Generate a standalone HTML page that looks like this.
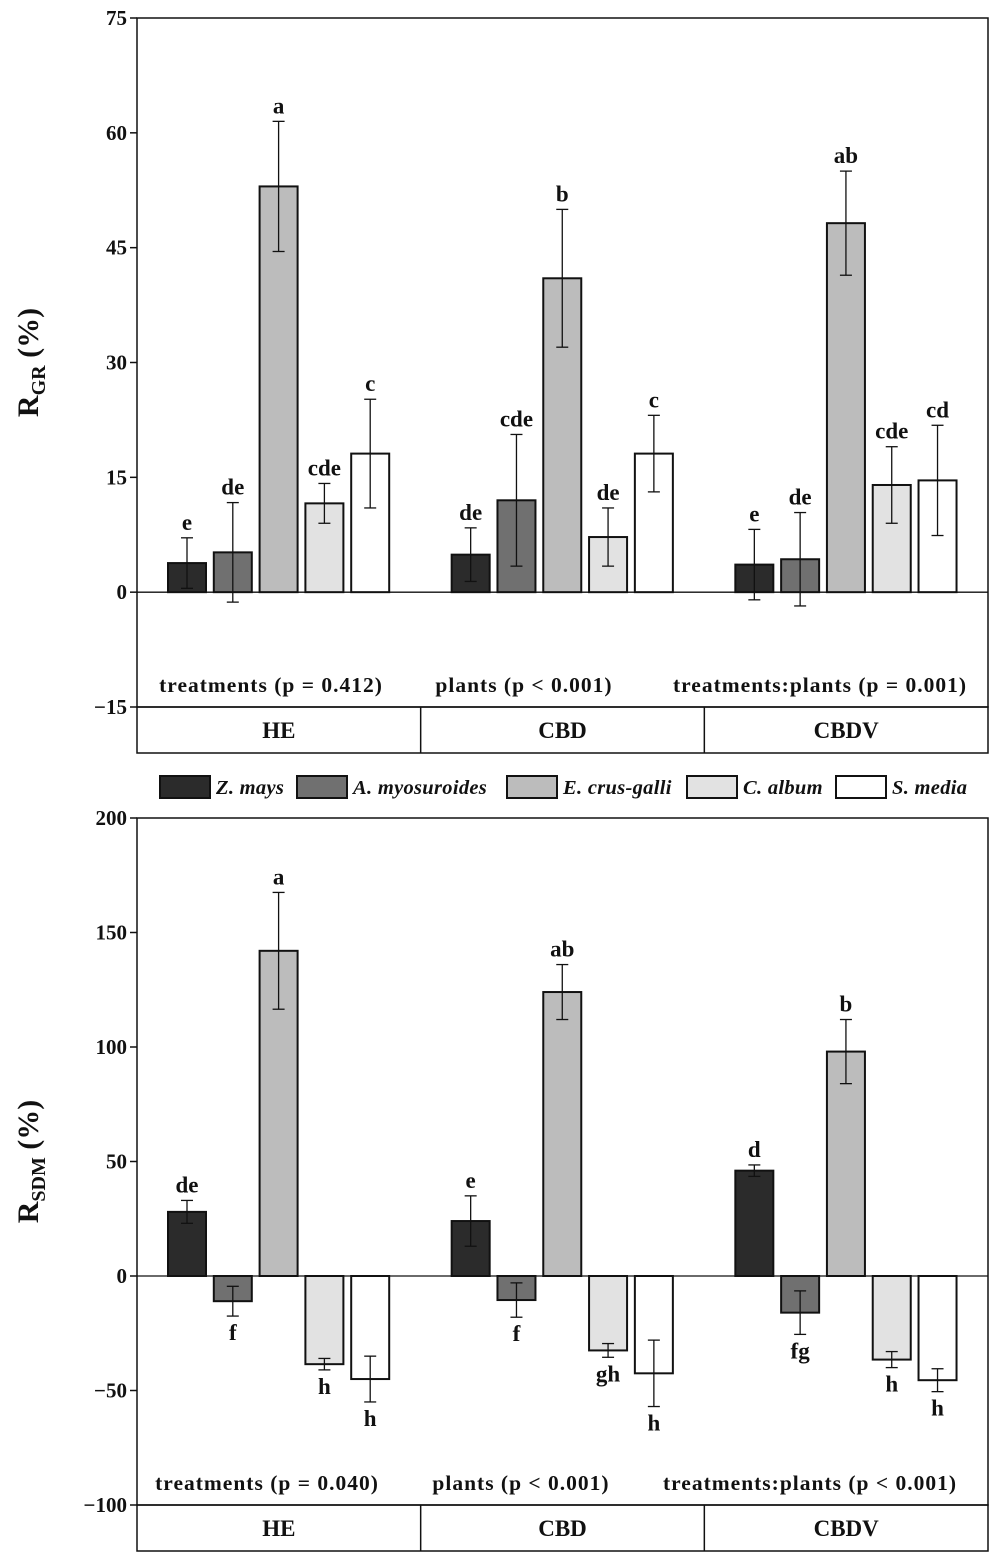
<!DOCTYPE html>
<html><head><meta charset="utf-8"><style>
html,body{margin:0;padding:0;background:#fff}
svg{display:block}
text{font-family:"Liberation Serif",serif;font-weight:bold;fill:#111}
</style></head><body>
<svg id="chart" width="992" height="1559" viewBox="0 0 992 1559" xmlns="http://www.w3.org/2000/svg"></svg>
<script>
const groups = ["HE","CBD","CBDV"];
const species = ["Z. mays","A. myosuroides","E. crus-galli","C. album","S. media"];
const colors = ["#2b2b2b","#707070","#bcbcbc","#e2e2e2","#ffffff"];
const grValues = [[3.8,5.2,53,11.6,18.1],[4.9,12,41,7.2,18.1],[3.6,4.3,48.2,14,14.6]];
const grErrors = [[3.3,6.5,8.5,2.6,7.1],[3.5,8.6,9,3.8,5],[4.6,6.1,6.8,5,7.2]];
const grLetters = [["e","de","a","cde","c"],["de","cde","b","de","c"],["e","de","ab","cde","cd"]];
const grTicks = [75,60,45,30,15,0,-15];
const grStats = ["treatments (p = 0.412)","plants (p < 0.001)","treatments:plants (p = 0.001)"];
const sdmValues = [[28,-11,142,-38.5,-45],[24,-10.5,124,-32.5,-42.5],[46,-16,98,-36.5,-45.5]];
const sdmErrors = [[5,6.5,25.5,2.5,10],[11,7.5,12,3,14.5],[2.5,9.5,14,3.5,5]];
const sdmLetters = [["de","f","a","h","h"],["e","f","ab","gh","h"],["d","fg","b","h","h"]];
const sdmTicks = [200,150,100,50,0,-50,-100];
const sdmStats = ["treatments (p = 0.040)","plants (p < 0.001)","treatments:plants (p < 0.001)"];

const svg = document.getElementById('chart');
const NS = "http://www.w3.org/2000/svg";
function mk(tag, attrs, parent){const e=document.createElementNS(NS,tag);for(const k in attrs)e.setAttribute(k,attrs[k]);(parent||svg).appendChild(e);return e;}
const X0=137, X1=988, groupW=(X1-X0)/3;
function barX(g,i){return X0+g*groupW+50+i*45.8;}

function panel(cfg){
  const y=v=>cfg.top+(cfg.max-v)/(cfg.max-cfg.min)*(cfg.bottom-cfg.top);
  const g0=mk('g',{});
  
  
  const z=mk('line',{x1:X0,x2:X1,y1:y(0),y2:y(0),stroke:'#111','stroke-width':1.3},g0);
  
  cfg.values.forEach((row,g)=>row.forEach((v,i)=>{
    const cx=barX(g,i), w=38;
    const r=mk('rect',{x:cx-w/2,y:Math.min(y(v),y(0)),width:w,height:Math.abs(y(v)-y(0)),fill:colors[i],stroke:'#111','stroke-width':2},g0);
    
    
    const e=cfg.errors[g][i];
    const eg=mk('g',{stroke:'#111','stroke-width':1.3},g0);
    
    mk('line',{x1:cx,x2:cx,y1:y(v+e),y2:y(v-e)},eg);
    mk('line',{x1:cx-6,x2:cx+6,y1:y(v+e),y2:y(v+e)},eg);
    mk('line',{x1:cx-6,x2:cx+6,y1:y(v-e),y2:y(v-e)},eg);
    const ly = v>=0 ? y(v+e)-8 : y(v-e)+24;
    const t=mk('text',{x:cx,y:ly,'text-anchor':'middle','font-size':23},g0);
    t.textContent=cfg.letters[g][i];
    
  }));
  const f=mk('rect',{x:X0,y:cfg.top,width:X1-X0,height:cfg.bottom-cfg.top,fill:'none',stroke:'#111','stroke-width':1.5},g0);
  
  cfg.ticks.forEach(tv=>{
    mk('line',{x1:X0-7,x2:X0,y1:y(tv),y2:y(tv),stroke:'#111','stroke-width':1.5},g0);
    const t=mk('text',{x:X0-10,y:y(tv)+7,'text-anchor':'end','font-size':21},g0);
    t.textContent=tv<0?'\u2212'+(-tv):tv;
    
  });
  cfg.stats.forEach((s,g)=>{
    const t=mk('text',{x:cfg.statX[g],y:cfg.statY,'text-anchor':'middle','font-size':21.5,'letter-spacing':1},g0);
    t.textContent=s;
  });
  const cb=mk('rect',{x:X0,y:cfg.bottom,width:X1-X0,height:46,fill:'none',stroke:'#111','stroke-width':1.5},g0);
  
  groups.forEach((gn,g)=>{
    if(g>0) mk('line',{x1:X0+g*groupW,x2:X0+g*groupW,y1:cfg.bottom,y2:cfg.bottom+46,stroke:'#111','stroke-width':1.5},g0);
    const t=mk('text',{x:X0+g*groupW+groupW/2,y:cfg.bottom+31,'text-anchor':'middle','font-size':23},g0);
    t.textContent=gn;
  });
  const yc=(cfg.top+cfg.bottom)/2;
  const t=mk('text',{x:0,y:0,'text-anchor':'middle','font-size':30,transform:`translate(38,${yc}) rotate(-90)`},g0);
  t.innerHTML='R<tspan font-size="20" dy="7">'+cfg.sub+'</tspan><tspan dy="-7"> (%)</tspan>';
  
}
panel({name:'rgr-panel',top:18,bottom:707,max:75,min:-15,values:grValues,errors:grErrors,letters:grLetters,ticks:grTicks,stats:grStats,statX:[271,524,820],statY:692,sub:'GR'});
panel({name:'rsdm-panel',top:818,bottom:1505,max:200,min:-100,values:sdmValues,errors:sdmErrors,letters:sdmLetters,ticks:sdmTicks,stats:sdmStats,statX:[267,521,810],statY:1490,sub:'SDM'});
const lg=mk('g',{});

const lx=[160,297,507,687,836];
species.forEach((s,i)=>{
  const r=mk('rect',{x:lx[i],y:776,width:50,height:22,fill:colors[i],stroke:'#111','stroke-width':2},lg);
  
  const t=mk('text',{x:lx[i]+56,y:794,'font-size':20.5,'font-style':'italic','letter-spacing':0.3},lg);
  t.textContent=s;
});
</script>
</body></html>
